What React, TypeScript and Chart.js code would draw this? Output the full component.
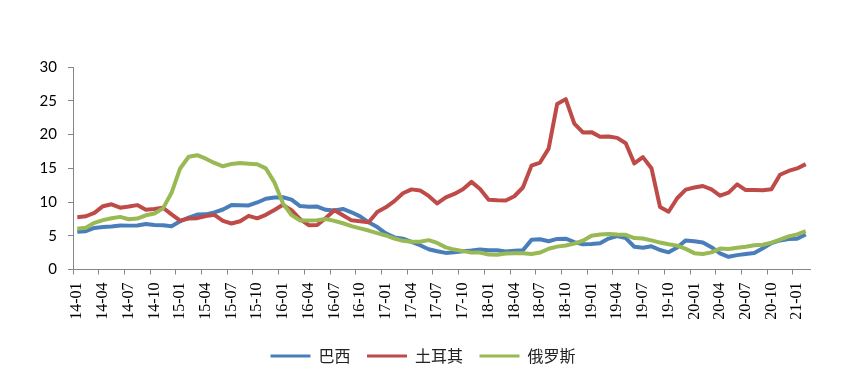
import React, { useEffect, useRef } from 'react';
import { Chart, registerables } from 'chart.js';

Chart.register(...registerables);

const months: string[] = [
  '14-01', '14-02', '14-03', '14-04', '14-05', '14-06', '14-07', '14-08', '14-09', '14-10', '14-11', '14-12',
  '15-01', '15-02', '15-03', '15-04', '15-05', '15-06', '15-07', '15-08', '15-09', '15-10', '15-11', '15-12',
  '16-01', '16-02', '16-03', '16-04', '16-05', '16-06', '16-07', '16-08', '16-09', '16-10', '16-11', '16-12',
  '17-01', '17-02', '17-03', '17-04', '17-05', '17-06', '17-07', '17-08', '17-09', '17-10', '17-11', '17-12',
  '18-01', '18-02', '18-03', '18-04', '18-05', '18-06', '18-07', '18-08', '18-09', '18-10', '18-11', '18-12',
  '19-01', '19-02', '19-03', '19-04', '19-05', '19-06', '19-07', '19-08', '19-09', '19-10', '19-11', '19-12',
  '20-01', '20-02', '20-03', '20-04', '20-05', '20-06', '20-07', '20-08', '20-09', '20-10', '20-11', '20-12',
  '21-01', '21-02',
];

const brazil: number[] = [
  5.59, 5.68, 6.15, 6.28, 6.37, 6.52, 6.5, 6.51, 6.75, 6.59, 6.56, 6.41,
  7.14, 7.7, 8.13, 8.17, 8.47, 8.89, 9.56, 9.53, 9.49, 9.93, 10.48, 10.67,
  10.71, 10.36, 9.39, 9.28, 9.32, 8.84, 8.74, 8.97, 8.48, 7.87, 6.99, 6.29,
  5.35, 4.76, 4.57, 4.08, 3.6, 3.0, 2.71, 2.46, 2.54, 2.7, 2.8, 2.95,
  2.86, 2.84, 2.68, 2.76, 2.86, 4.39, 4.48, 4.19, 4.53, 4.56, 4.05, 3.75,
  3.78, 3.89, 4.58, 4.94, 4.66, 3.37, 3.22, 3.43, 2.89, 2.54, 3.27, 4.31,
  4.19, 4.01, 3.3, 2.4, 1.88, 2.13, 2.31, 2.44, 3.14, 3.92, 4.31, 4.52,
  4.56, 5.2,
];

const turkey: number[] = [
  7.75, 7.89, 8.39, 9.38, 9.66, 9.16, 9.32, 9.54, 8.86, 8.96, 9.15, 8.17,
  7.24, 7.55, 7.61, 7.91, 8.09, 7.2, 6.81, 7.14, 7.95, 7.58, 8.1, 8.81,
  9.58, 8.78, 7.46, 6.57, 6.58, 7.64, 8.79, 8.05, 7.28, 7.16, 7.0, 8.53,
  9.22, 10.13, 11.29, 11.87, 11.72, 10.9, 9.79, 10.68, 11.2, 11.9, 12.98, 11.92,
  10.35, 10.26, 10.23, 10.85, 12.15, 15.39, 15.85, 17.9, 24.52, 25.24, 21.62, 20.3,
  20.35, 19.67, 19.71, 19.5, 18.71, 15.72, 16.65, 15.01, 9.26, 8.55, 10.56, 11.84,
  12.15, 12.37, 11.86, 10.94, 11.39, 12.62, 11.76, 11.77, 11.75, 11.89, 14.03, 14.6,
  14.97, 15.61,
];

const russia: number[] = [
  6.05, 6.19, 6.92, 7.32, 7.59, 7.8, 7.45, 7.55, 8.03, 8.29, 9.06, 11.36,
  14.97, 16.71, 16.93, 16.42, 15.78, 15.29, 15.64, 15.77, 15.68, 15.59, 14.98, 12.91,
  9.77, 8.06, 7.27, 7.25, 7.31, 7.48, 7.21, 6.85, 6.43, 6.09, 5.77, 5.38,
  5.04, 4.59, 4.25, 4.1, 4.1, 4.35, 3.94, 3.28, 2.95, 2.72, 2.5, 2.52,
  2.21, 2.2, 2.36, 2.42, 2.42, 2.3, 2.51, 3.07, 3.39, 3.55, 3.83, 4.27,
  5.0, 5.2, 5.27, 5.17, 5.13, 4.66, 4.59, 4.31, 3.99, 3.75, 3.54, 3.05,
  2.42, 2.31, 2.54, 3.1, 3.03, 3.21, 3.37, 3.58, 3.67, 3.99, 4.42, 4.91,
  5.19, 5.67,
];

const seriesNames = ['巴西', '土耳其', '俄罗斯'];
const seriesColors = ['#4A7EBB', '#BE4B48', '#98B954'];

const AXIS_COLOR = '#868686';

export default function App() {
  const ref = useRef<HTMLCanvasElement>(null);

  useEffect(() => {
    if (!ref.current) return;
    const allData = [brazil, turkey, russia];
    const orders = [2, 1, 0];
    const chart = new Chart(ref.current, {
      type: 'line',
      data: {
        labels: months,
        datasets: allData.map((d, i) => ({
          label: seriesNames[i],
          data: d,
          borderColor: seriesColors[i],
          backgroundColor: seriesColors[i],
          borderWidth: 4,
          pointRadius: 0,
          pointHoverRadius: 0,
          tension: 0,
          fill: false,
          order: orders[i],
          borderJoinStyle: 'round' as const,
          yAxisID: 'y',
        })),
      },
      options: {
        animation: false,
        responsive: false,
        maintainAspectRatio: false,
        layout: { padding: { top: 67, right: 0, left: 0, bottom: 9 } },
        scales: {
          x: {
            type: 'category',
            offset: true,
            grid: {
              offset: true,
              drawOnChartArea: false,
              drawTicks: true,
              tickLength: 5,
              lineWidth: 1,
              color: (ctx: any) => (typeof ctx.index === 'number' && ctx.index % 3 === 0 ? AXIS_COLOR : 'rgba(0,0,0,0)'),
            },
            border: { display: true, color: AXIS_COLOR, width: 1 },
            ticks: {
              autoSkip: false,
              maxRotation: 90,
              minRotation: 90,
              padding: 8,
              color: '#000',
              font: { family: 'Liberation Serif', size: 16 },
              callback: (_v: any, i: number) => (i % 3 === 0 ? months[i] : ''),
            },
            afterFit: (s: any) => {
              s.height = 62;
            },
          },
          y: {
            position: 'left',
            min: 0,
            max: 30,
            grid: {
              drawOnChartArea: false,
              drawTicks: true,
              tickLength: 5,
              color: AXIS_COLOR,
              lineWidth: 1,
            },
            border: { display: true, color: AXIS_COLOR, width: 1 },
            ticks: {
              stepSize: 5,
              padding: 11,
              color: '#000',
              font: { family: 'Lato', size: 15 },
            },
            afterFit: (s: any) => {
              s.width = 73;
            },
          },
          yRight: {
            position: 'right',
            display: true,
            min: 0,
            max: 30,
            grid: { display: false, drawOnChartArea: false },
            border: { display: false },
            ticks: { display: false },
            afterFit: (s: any) => {
              s.width = 36;
            },
          },
        },
        plugins: {
          legend: {
            position: 'bottom',
            labels: {
              usePointStyle: true,
              pointStyle: 'line',
              pointStyleWidth: 40,
              padding: 16.5,
              color: '#222',
              font: { family: 'Noto Sans CJK SC', size: 16 },
              sort: (a: any, b: any) => a.datasetIndex - b.datasetIndex,
              generateLabels: (c: any) =>
                Chart.defaults.plugins.legend.labels.generateLabels(c).map((l: any) => ({
                  ...l,
                  lineWidth: 3,
                  pointStyle: 'line',
                })),
            },
          },
          tooltip: { enabled: false },
          title: { display: false },
        },
      },
    });
    return () => chart.destroy();
  }, []);

  return (
    <div style={{ position: 'absolute', left: 0, top: 0, width: 846, height: 383, background: '#fff' }}>
      <canvas ref={ref} width={846} height={383} style={{ width: 846, height: 383, display: 'block' }} />
    </div>
  );
}
